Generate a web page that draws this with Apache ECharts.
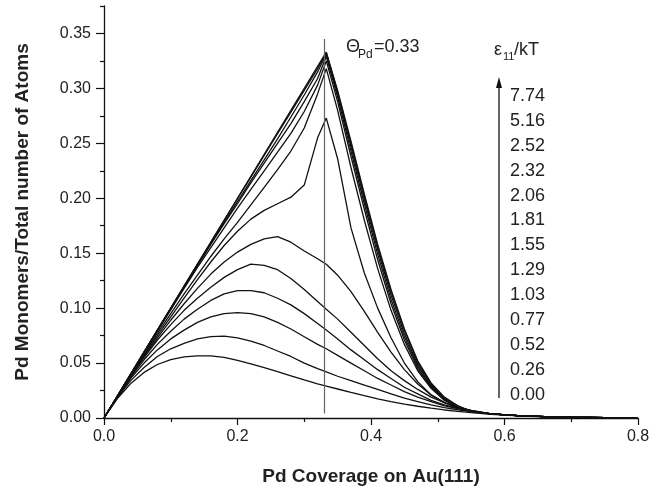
<!DOCTYPE html>
<html>
<head>
<meta charset="utf-8">
<script src="https://cdn.jsdelivr.net/npm/echarts@6/dist/echarts.min.js"></script>
<style>html,body{margin:0;padding:0;background:#fff;}#chart{width:663px;height:491px;}</style>
</head>
<body>
<div id="chart"></div>
<script>
// Coverage values (x) shared by all curves
const xs = [0,0.02,0.04,0.06,0.08,0.10,0.12,0.14,0.16,0.18,0.20,0.22,0.24,0.26,0.28,0.30,0.32,0.333,0.35,0.37,0.39,0.41,0.43,0.45,0.47,0.49,0.51,0.53,0.55,0.58,0.62,0.66,0.70,0.75,0.80];
const tail = [0.0038,0.0021,0.0012,0.0007,0.0003,0.0001];
// Monomer fraction for each epsilon11/kT
const e000 = [0,0.0177,0.0313,0.0415,0.0487,0.0531,0.0556,0.0566,0.0566,0.0551,0.0524,0.0493,0.0458,0.0421,0.0384,0.0346,0.031,0.029,0.0264,0.0233,0.0203,0.0175,0.015,0.0127,0.0107,0.0089,0.0073,0.006,0.0048,0.0033,0.0019,0.0011,0.0006,0.0003,0.0001];
const e026 = [0,0.0185,0.034,0.046,0.056,0.063,0.068,0.072,0.074,0.0745,0.073,0.070,0.066,0.061,0.056,0.050,0.045,0.042,0.038,0.034,0.030,0.026,0.022,0.018,0.015,0.012,0.0095,0.0075,0.0058,...tail];
const e052 = [0,0.019,0.036,0.050,0.062,0.072,0.080,0.087,0.092,0.095,0.096,0.095,0.092,0.087,0.081,0.074,0.067,0.063,0.057,0.050,0.043,0.036,0.030,0.024,0.019,0.015,0.011,0.0085,0.0062,...tail];
const e077 = [0,0.019,0.037,0.053,0.067,0.079,0.090,0.099,0.107,0.113,0.116,0.116,0.114,0.109,0.103,0.095,0.086,0.080,0.072,0.062,0.053,0.044,0.036,0.028,0.022,0.016,0.012,0.009,0.0065,...tail];
const e103 = [0,0.0195,0.038,0.055,0.071,0.085,0.098,0.109,0.119,0.128,0.135,0.140,0.139,0.135,0.127,0.117,0.106,0.099,0.090,0.078,0.066,0.054,0.043,0.034,0.026,0.019,0.014,0.010,0.007,...tail];
const e129 = [0,0.0195,0.0385,0.056,0.073,0.089,0.104,0.118,0.131,0.142,0.151,0.158,0.163,0.165,0.160,0.152,0.145,0.140,0.130,0.115,0.097,0.078,0.060,0.044,0.031,0.021,0.014,0.0095,0.007,...tail];
const e155 = [0,0.0197,0.039,0.057,0.075,0.092,0.109,0.126,0.142,0.157,0.170,0.181,0.189,0.195,0.201,0.212,0.255,0.273,0.236,0.173,0.132,0.100,0.073,0.050,0.033,0.021,0.014,0.009,0.006,...tail];
const e181 = [0,0.0198,0.0393,0.058,0.077,0.095,0.113,0.130,0.147,0.163,0.178,0.194,0.210,0.226,0.243,0.264,0.295,0.318,0.280,0.228,0.180,0.136,0.098,0.067,0.043,0.027,0.016,0.010,0.006,...tail];
const e206 = [0,0.02,0.0398,0.0595,0.079,0.0985,0.118,0.137,0.155,0.173,0.191,0.208,0.225,0.242,0.259,0.279,0.303,0.325,0.288,0.238,0.190,0.144,0.104,0.071,0.045,0.028,0.017,0.010,0.006,...tail];
const e232 = [0,0.02,0.04,0.06,0.0797,0.0994,0.119,0.1385,0.158,0.177,0.195,0.214,0.232,0.250,0.268,0.288,0.309,0.329,0.292,0.243,0.195,0.149,0.108,0.074,0.047,0.029,0.017,0.010,0.006,...tail];
const e252 = [0,0.02,0.04,0.06,0.08,0.0997,0.1195,0.139,0.159,0.178,0.197,0.216,0.235,0.254,0.274,0.294,0.315,0.331,0.295,0.247,0.199,0.153,0.112,0.077,0.049,0.030,0.018,0.010,0.006,...tail];
const e516 = [0,0.02,0.04,0.06,0.08,0.1,0.12,0.14,0.16,0.1798,0.1996,0.2193,0.239,0.2587,0.2784,0.2982,0.318,0.3325,0.297,0.250,0.202,0.156,0.115,0.080,0.051,0.031,0.018,0.011,0.006,...tail];
const e774 = [0,0.02,0.04,0.06,0.08,0.1,0.12,0.14,0.16,0.18,0.2,0.22,0.24,0.26,0.28,0.3,0.32,0.333,0.298,0.252,0.204,0.158,0.117,0.081,0.052,0.032,0.019,0.011,0.006,...tail];

const curveNames = ['0.00','0.26','0.52','0.77','1.03','1.29','1.55','1.81','2.06','2.32','2.52','5.16','7.74'];
const curves = [e000,e026,e052,e077,e103,e129,e155,e181,e206,e232,e252,e516,e774];
const legendLabels = ['7.74','5.16','2.52','2.32','2.06','1.81','1.55','1.29','1.03','0.77','0.52','0.26','0.00'];

const xTicks = [0,0.2,0.4,0.6,0.8];
const yTicks = [0,0.05,0.10,0.15,0.20,0.25,0.30,0.35];
const yMinorTicks = [0.025,0.075,0.125,0.175,0.225,0.275,0.325,0.375];
const thetaPd = 0.33;

const chart = echarts.init(document.getElementById('chart'), null, {renderer:'canvas'});
const FONT = 'Liberation Sans, Arial, Helvetica, sans-serif';

const series = curves.map((arr, k) => ({
  name: curveNames[k],
  type: 'line',
  showSymbol: false,
  symbol: 'none',
  silent: true,
  data: xs.map((x, i) => [x, arr[i]]),
  lineStyle: {color: '#111', width: 1.3},
  z: 3
}));
series[0].markLine = {
  silent: true,
  symbol: ['none','none'],
  label: {show: false},
  lineStyle: {color: '#666', width: 1.2, type: 'solid'},
  data: [[{coord: [thetaPd, 0.004]}, {coord: [thetaPd, 0.345]}]]
};

const graphics = [];
graphics.push({type:'text', x:346, y:47, style:{text:'Θ', font:'18px '+FONT, fill:'#222', textVerticalAlign:'middle'}});
graphics.push({type:'text', x:358, y:55, style:{text:'Pd', font:'12px '+FONT, fill:'#222', textVerticalAlign:'middle'}});
graphics.push({type:'text', x:374, y:47, style:{text:'=0.33', font:'18px '+FONT, fill:'#222', textVerticalAlign:'middle'}});
graphics.push({type:'text', x:494, y:50, style:{text:'ε', font:'18px '+FONT, fill:'#222', textVerticalAlign:'middle'}});
graphics.push({type:'text', x:503, y:57, style:{text:'11', font:'11px '+FONT, fill:'#222', textVerticalAlign:'middle'}});
graphics.push({type:'text', x:514, y:50, style:{text:'/kT', font:'18px '+FONT, fill:'#222', textVerticalAlign:'middle'}});
legendLabels.forEach((t, i) => {
  graphics.push({type:'text', x:510, y:96 + i*24.9, style:{text:t, font:'18px '+FONT, fill:'#222', textVerticalAlign:'middle'}});
});
graphics.push({type:'line', shape:{x1:499, y1:398, x2:499, y2:84}, style:{stroke:'#111', lineWidth:1.3}});
graphics.push({type:'polygon', shape:{points:[[499,77],[496,88],[502,88]]}, style:{fill:'#111'}});

chart.setOption({
  animation: false,
  backgroundColor: '#fff',
  grid: {left: 104, right: 25, top: 6, bottom: 67, containLabel: false},
  xAxis: {
    type: 'value', min: 0, max: 0.8, interval: 0.2,
    name: 'Pd Coverage on Au(111)', nameLocation: 'middle', nameGap: 49,
    nameTextStyle: {fontFamily: FONT, fontWeight: 'bold', fontSize: 19, color: '#222'},
    axisLine: {show: true, onZero: false, lineStyle: {color: '#111', width: 1.3}},
    axisTick: {show: true, inside: false, length: 7, lineStyle: {color: '#111', width: 1.2}},
    minorTick: {show: true, splitNumber: 2, length: 4, lineStyle: {color: '#111', width: 1.2}},
    axisLabel: {customValues: xTicks, fontFamily: FONT, fontSize: 16, color: '#222', margin: 11, formatter: v => v.toFixed(1)},
    splitLine: {show: false}
  },
  yAxis: [{
    type: 'value', min: 0, max: 0.375,
    name: 'Pd Monomers/Total number of Atoms', nameLocation: 'middle', nameGap: 72,
    nameTextStyle: {fontFamily: FONT, fontWeight: 'bold', fontSize: 19, color: '#222'},
    axisLine: {show: true, onZero: false, lineStyle: {color: '#111', width: 1.3}},
    axisTick: {show: true, inside: false, length: 8, customValues: yTicks, lineStyle: {color: '#111', width: 1.2}},
    axisLabel: {customValues: yTicks, fontFamily: FONT, fontSize: 16, color: '#222', margin: 13, formatter: v => v.toFixed(2)},
    splitLine: {show: false}
  }, {
    type: 'value', min: 0, max: 0.375, position: 'left',
    axisLine: {show: false},
    axisTick: {show: true, inside: false, length: 4, customValues: yMinorTicks, lineStyle: {color: '#111', width: 1.2}},
    axisLabel: {show: false},
    splitLine: {show: false}
  }],
  series: series,
  graphic: graphics
});
</script>
</body>
</html>
